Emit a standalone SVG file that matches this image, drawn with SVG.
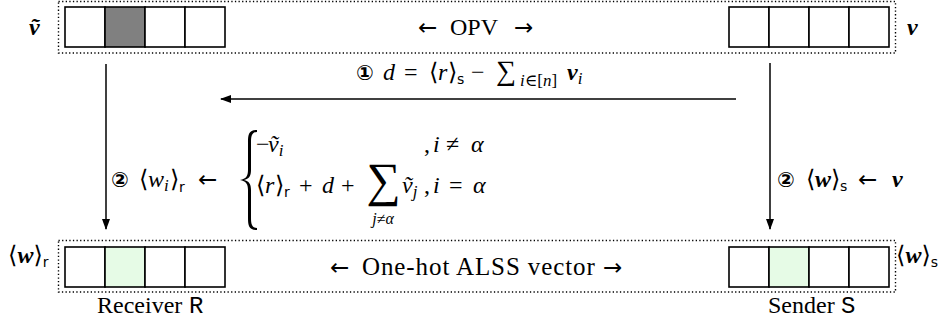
<svg xmlns="http://www.w3.org/2000/svg" width="947" height="325" viewBox="0 0 947 325">
<style>
.dot{fill:none;stroke:#000;stroke-width:1.4;stroke-dasharray:1.3 2.3}
.cell{stroke:#000;stroke-width:1.6}
.w{fill:#fff}
.g{fill:#808080}
.gr{fill:#e6fbe6}
.conn{stroke:#000;stroke-width:1.5;fill:none}
text{font-family:'Liberation Serif','DejaVu Serif',serif;font-size:24px;fill:#000}
.it{font-style:italic}
.bi{font-style:italic;font-weight:bold}
.sf{font-family:'DejaVu Sans','Liberation Sans',sans-serif;font-size:14px}
.tt{font-family:'Liberation Mono','DejaVu Sans Mono',monospace}
.circ{font-family:'DejaVu Sans',sans-serif;font-size:21px;font-weight:bold}
.ar{font-family:'DejaVu Sans',sans-serif;font-size:23px}
.small{font-size:17px}
</style>
<defs>
<marker id="ah" markerWidth="12" markerHeight="10" refX="10" refY="4" orient="auto" markerUnits="userSpaceOnUse">
<path d="M0,0 L11,4 L0,8 Z" fill="#000"/>
</marker>
</defs>

<g id="opv-top">
<rect class="dot" x="58.5" y="1.5" width="837" height="51.5"/>
<text y="35"><tspan class="ar" x="418">←</tspan><tspan x="450">OPV</tspan><tspan class="ar" x="514">→</tspan></text>
</g>

<g id="receiver-opv">
<rect class="cell w" x="65" y="7" width="40" height="40"/>
<rect class="cell g" x="105" y="7" width="40" height="40"/>
<rect class="cell w" x="145" y="7" width="40" height="40"/>
<rect class="cell w" x="185" y="7" width="40" height="40"/>
<text class="bi" x="29" y="35">ṽ</text>
</g>

<g id="sender-opv">
<rect class="cell w" x="729" y="7" width="40" height="40"/>
<rect class="cell w" x="769" y="7" width="40" height="40"/>
<rect class="cell w" x="809" y="7" width="40" height="40"/>
<rect class="cell w" x="849" y="7" width="40" height="40"/>
<text class="bi" x="907" y="35">v</text>
</g>

<g id="alss-bottom">
<rect class="dot" x="58.5" y="240.5" width="837" height="51.5"/>
<text y="275"><tspan class="ar" x="330">←</tspan><tspan x="362" style="font-size:25px;letter-spacing:0.9px">One-hot ALSS vector</tspan><tspan class="ar" x="603">→</tspan></text>
</g>

<g id="receiver-share">
<rect class="cell w" x="65" y="247" width="40" height="40"/>
<rect class="cell gr" x="105" y="247" width="40" height="40"/>
<rect class="cell w" x="145" y="247" width="40" height="40"/>
<rect class="cell w" x="185" y="247" width="40" height="40"/>
<text x="8" y="263">⟨<tspan class="bi">w</tspan>⟩<tspan class="sf" dy="4">r</tspan></text>
<text y="313"><tspan x="97">Receiver</tspan><tspan class="tt" x="189">R</tspan></text>
</g>

<g id="sender-share">
<rect class="cell w" x="729" y="247" width="40" height="40"/>
<rect class="cell gr" x="769" y="247" width="40" height="40"/>
<rect class="cell w" x="809" y="247" width="40" height="40"/>
<rect class="cell w" x="849" y="247" width="40" height="40"/>
<text x="896" y="263">⟨<tspan class="bi">w</tspan>⟩<tspan class="sf" dy="4">s</tspan></text>
<text y="313"><tspan x="768">Sender</tspan><tspan class="tt" x="841">S</tspan></text>
</g>

<g id="connectors">
<line class="conn" x1="736" y1="99" x2="221" y2="99" marker-end="url(#ah)"/>
<line class="conn" x1="106" y1="64" x2="106" y2="229" marker-end="url(#ah)"/>
<line class="conn" x1="770" y1="63" x2="770" y2="229" marker-end="url(#ah)"/>
</g>

<g id="labels">
<text y="80"><tspan class="circ" x="356">①</tspan><tspan class="it" x="383">d</tspan><tspan x="404">=</tspan><tspan x="429">⟨</tspan><tspan class="it" x="438">r</tspan><tspan x="448">⟩</tspan><tspan class="sf" x="457" dy="4">s</tspan><tspan x="471" dy="-4">−</tspan><tspan x="496" style="font-size:28px">∑</tspan><tspan class="it small" x="520" dy="6">i</tspan><tspan class="small">∈[</tspan><tspan class="it small">n</tspan><tspan class="small">]</tspan><tspan class="bi" x="567" dy="-6">v</tspan><tspan class="it small" dy="4">i</tspan></text>

<text y="187"><tspan class="circ" x="111">②</tspan><tspan x="139">⟨</tspan><tspan class="it" x="148">w</tspan><tspan class="it small" dy="4">i</tspan><tspan x="170" dy="-4">⟩</tspan><tspan class="sf" x="179" dy="5">r</tspan><tspan class="ar" x="198" dy="-5">←</tspan></text>
<path d="M257,130 C249,130 248,134 248,142 L248,170 C248,176 246,179 240,180 C246,181 248,184 248,190 L248,218 C248,226 249,230 257,230 L257,228 C252,228 251,224 251,218 L251,190 C251,184 249,181 244,180 C249,179 251,176 251,170 L251,142 C251,136 252,132 257,132 Z" fill="#000"/>
<text y="152"><tspan x="256">−</tspan><tspan class="it" x="268">ṽ</tspan><tspan class="it small" dy="4">i</tspan></text>
<text y="152"><tspan x="424">,</tspan><tspan class="it" x="433">i</tspan><tspan x="446">≠</tspan><tspan class="it" x="471">α</tspan></text>
<text y="193"><tspan x="256">⟨</tspan><tspan class="it" x="265">r</tspan><tspan x="275">⟩</tspan><tspan class="sf" x="284" dy="4">r</tspan><tspan x="299" dy="-4">+</tspan><tspan class="it" x="322">d</tspan><tspan x="341">+</tspan></text>
<text x="383.5" y="196" text-anchor="middle" style="font-size:48px">∑</text>
<text x="383" y="224" text-anchor="middle" style="font-size:16px"><tspan class="it">j</tspan>≠<tspan class="it">α</tspan></text>
<text y="193"><tspan class="it" x="402">ṽ</tspan><tspan class="it small" dy="4">j</tspan><tspan x="424" dy="-4">,</tspan><tspan class="it" x="433">i</tspan><tspan x="449">=</tspan><tspan class="it" x="473">α</tspan></text>

<text y="187"><tspan class="circ" x="777">②</tspan><tspan x="806">⟨</tspan><tspan class="bi" x="815">w</tspan><tspan x="831">⟩</tspan><tspan class="sf" x="840" dy="4">s</tspan><tspan class="ar" x="858" dy="-4">←</tspan><tspan class="bi" x="892">v</tspan></text>
</g>
</svg>
